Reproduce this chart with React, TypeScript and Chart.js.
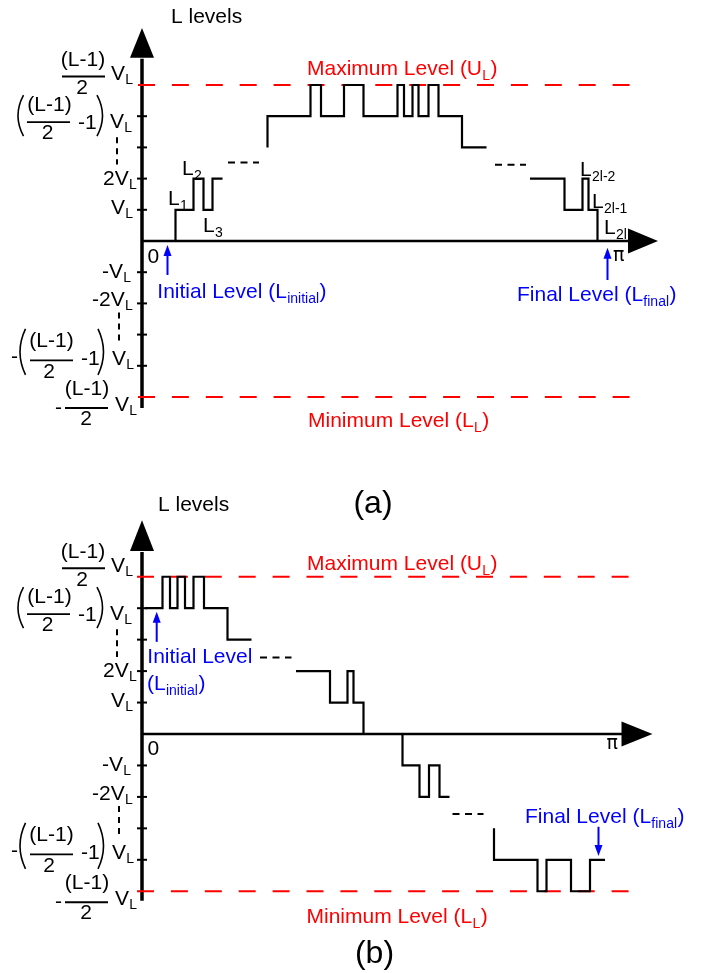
import React, { useEffect, useRef } from 'react';
import { Chart, registerables } from 'chart.js';

Chart.register(...registerables);

const FONT = '"Liberation Sans", Arial, Helvetica, sans-serif';
const PI_FONT = '"DejaVu Sans", "Liberation Sans", sans-serif';
const RED = '#ff0000';
const BLUE = '#0000ff';
const BLACK = '#000000';

// Output levels in units of V_L
const MAX_LEVEL = 5;
const MIN_LEVEL = -5;
const TICK_LEVELS = [-4, -3, -2, -1, 1, 2, 3, 4];

// ---- Panel (a): staircase from 0 up to the maximum level and back to 0 ----
const aSeg1X = [0, 6.7, 10.3, 12.3, 14.1, 16.1];
const aSeg1L = [0, 1, 2, 1, 2, 2];
const aSeg2X = [25.1, 25.1, 33.7, 35.8, 40.4, 44.3, 51.1, 52.4, 54.1, 55.3, 57.3, 59.3, 64.0, 68.9];
const aSeg2L = [3, 4, 5, 4, 5, 4, 5, 4, 5, 4, 5, 4, 3, 3];
const aSeg3X = [77.6, 84.5, 88.1, 89.3, 91.1, 92.0];
const aSeg3L = [2, 1, 2, 1, 0, 0];
// "- - -" continuation marks: [xStart, xEnd, level]
const aGap1 = [17.2, 23.4, 2.52];
const aGap2 = [70.6, 76.8, 2.44];
const aLimitX = [-0.8, 98.0];

// ---- Panel (b): staircase from near maximum down to near minimum ----
const bSeg1X = [0.6, 4.1, 5.6, 7.1, 8.6, 10.3, 12.4, 17.1, 21.9];
const bSeg1L = [4, 5, 4, 5, 4, 5, 4, 3, 3];
const bSeg2X = [30.8, 37.6, 41.1, 42.3, 44.3, 52.1, 55.5, 57.4, 59.5, 61.5];
const bSeg2L = [2, 1, 2, 1, 0, -1, -2, -1, -2, -2];
const bSeg3X = [70.4, 70.4, 79.1, 80.9, 85.8, 89.6, 92.6];
const bSeg3L = [-3, -4, -5, -4, -5, -4, -4];
const bGap1 = [23.6, 29.9, 2.43];
const bGap2 = [62.1, 68.3, -2.54];
const bLimitX = [-1.0, 99.2];

type Panel = {
  key: 'a' | 'b';
  zero: number;
  unit: number;
  segs: [number[], number[]][];
  gaps: number[][];
  limitX: number[];
  vArrow: [number, number];
  axisBottom: number;
  hArrow: [number, number];
};

const PANEL_A: Panel = {
  key: 'a', zero: 241, unit: 31.2,
  segs: [[aSeg1X, aSeg1L], [aSeg2X, aSeg2L], [aSeg3X, aSeg3L]],
  gaps: [aGap1, aGap2], limitX: aLimitX,
  vArrow: [5.87, 6.83], axisBottom: -5.35, hArrow: [97.2, 103.2],
};
const PANEL_B: Panel = {
  key: 'b', zero: 734, unit: 31.45,
  segs: [[bSeg1X, bSeg1L], [bSeg2X, bSeg2L], [bSeg3X, bSeg3L]],
  gaps: [bGap1, bGap2], limitX: bLimitX,
  vArrow: [5.82, 6.8], axisBottom: -5.3, hArrow: [95.9, 102.1],
};

const X_MIN = -2, X_MAX = 104, Y_MIN = -5.6, Y_MAX = 7;
const W = 702, H = 973;

function txt(ctx: CanvasRenderingContext2D, s: string, x: number, y: number, size = 21, color = BLACK, align: CanvasTextAlign = 'left', family = FONT) {
  ctx.font = `${size}px ${family}`;
  ctx.fillStyle = color;
  ctx.textAlign = align;
  ctx.textBaseline = 'alphabetic';
  ctx.fillText(s, x, y);
  return ctx.measureText(s).width;
}
function subTxt(ctx: CanvasRenderingContext2D, x: number, y: number, main: string, sub: string, tail: string, color = BLACK, size = 21, subSize = 14, drop = 5) {
  const w = txt(ctx, main, x, y, size, color);
  const w2 = txt(ctx, sub, x + w + 0.3, y + drop, subSize, color);
  if (tail) txt(ctx, tail, x + w + w2 + 0.8, y, size, color);
}
function vl(ctx: CanvasRenderingContext2D, x: number, y: number, prefix = '') {
  subTxt(ctx, x, y, prefix + 'V', 'L', '', BLACK, 21, 14, 4);
}
function line(ctx: CanvasRenderingContext2D, x1: number, y1: number, x2: number, y2: number, w: number, dash: number[] = []) {
  ctx.save();
  ctx.beginPath();
  ctx.setLineDash(dash);
  ctx.lineWidth = w;
  ctx.moveTo(x1, y1);
  ctx.lineTo(x2, y2);
  ctx.stroke();
  ctx.restore();
}
function paren(ctx: CanvasRenderingContext2D, x: number, top: number, bottom: number, left: boolean) {
  const mid = (top + bottom) / 2;
  ctx.save();
  ctx.beginPath();
  ctx.lineWidth = 1.6;
  ctx.strokeStyle = BLACK;
  if (left) { ctx.moveTo(x + 6, top); ctx.quadraticCurveTo(x - 5, mid, x + 6, bottom); }
  else { ctx.moveTo(x, top); ctx.quadraticCurveTo(x + 11, mid, x, bottom); }
  ctx.stroke();
  ctx.restore();
}
function blueArrow(ctx: CanvasRenderingContext2D, x: number, yTail: number, yTip: number) {
  const dir = yTip < yTail ? -1 : 1;
  ctx.save();
  ctx.strokeStyle = BLUE;
  ctx.fillStyle = BLUE;
  line(ctx, x, yTail, x, yTip - dir * 8, 2);
  ctx.beginPath();
  ctx.moveTo(x, yTip);
  ctx.lineTo(x - 4, yTip - dir * 11);
  ctx.lineTo(x + 4, yTip - dir * 11);
  ctx.closePath();
  ctx.fill();
  ctx.restore();
}

function makePlugin(p: Panel) {
  return {
    id: 'decor' + p.key,
    beforeDatasetsDraw(chart: any) {
      const ctx: CanvasRenderingContext2D = chart.ctx;
      const xs = chart.scales.x, ys = chart.scales.y;
      const px = (u: number) => xs.getPixelForValue(u);
      const py = (v: number) => ys.getPixelForValue(v);
      const ax = px(0), y0 = py(0);
      ctx.save();
      ctx.strokeStyle = BLACK;
      ctx.fillStyle = BLACK;
      // vertical axis + arrow
      line(ctx, ax, py(p.axisBottom), ax, py(p.vArrow[0]) + 1, 3.5);
      ctx.beginPath();
      ctx.moveTo(ax, py(p.vArrow[1]));
      ctx.lineTo(ax - 12, py(p.vArrow[0]));
      ctx.lineTo(ax + 12, py(p.vArrow[0]));
      ctx.closePath();
      ctx.fill();
      // horizontal axis + arrow
      line(ctx, ax, y0, px(p.hArrow[0]) + 1, y0, 2.5);
      ctx.beginPath();
      ctx.moveTo(px(p.hArrow[1]), y0);
      ctx.lineTo(px(p.hArrow[0]), y0 - 12.5);
      ctx.lineTo(px(p.hArrow[0]), y0 + 12.5);
      ctx.closePath();
      ctx.fill();
      // ticks
      TICK_LEVELS.forEach((l) => line(ctx, ax - 5, py(l), ax + 5, py(l), 2));
      ctx.restore();
    },
    afterDraw(chart: any) {
      const ctx: CanvasRenderingContext2D = chart.ctx;
      const xs = chart.scales.x, ys = chart.scales.y;
      const px = (u: number) => xs.getPixelForValue(u);
      const py = (v: number) => ys.getPixelForValue(v);
      const ax = px(0);
      ctx.save();
      ctx.strokeStyle = BLACK;
      ctx.fillStyle = BLACK;

      // ---- level labels ----
      // +max: (L-1)/2 V_L
      let ty = py(MAX_LEVEL);
      txt(ctx, '(L-1)', ax - 59, ty - 19, 21, BLACK, 'center');
      line(ctx, ax - 80, ty - 8.5, ax - 37, ty - 8.5, 1.8);
      txt(ctx, '2', ax - 60, ty + 9, 21, BLACK, 'center');
      vl(ctx, ax - 31, ty - 5);
      // +4: ((L-1)/2 -1) V_L
      ty = py(4);
      paren(ctx, ax - 124.5, ty - 21, ty + 20, true);
      txt(ctx, '(L-1)', ax - 92.5, ty - 5, 21, BLACK, 'center');
      line(ctx, ax - 115, ty + 6, ax - 72, ty + 6, 1.8);
      txt(ctx, '2', ax - 94.5, ty + 23, 21, BLACK, 'center');
      txt(ctx, '-1', ax - 64, ty + 13);
      paren(ctx, ax - 45, ty - 21, ty + 20, false);
      vl(ctx, ax - 32, ty + 12);
      // dotted continuation (positive)
      line(ctx, ax - 25, py(4) + 21, ax - 25, py(2) - 14, 2, [6, 5]);
      // +2, +1
      vl(ctx, ax - 39, py(2) + 6, '2');
      vl(ctx, ax - 31, py(1) + 4);
      // -1, -2
      vl(ctx, ax - 40, py(-1) + 6, '-');
      vl(ctx, ax - 50, py(-2) + 3, '-2');
      // dotted continuation (negative)
      line(ctx, ax - 23, py(-2) + 9, ax - 23, py(-4) - 22, 2, [6, 5]);
      // -4: -((L-1)/2 -1) V_L
      ty = py(-4);
      txt(ctx, '-', ax - 131, ty - 3.2);
      paren(ctx, ax - 122.5, ty - 37, ty + 9, true);
      txt(ctx, '(L-1)', ax - 90.5, ty - 19, 21, BLACK, 'center');
      line(ctx, ax - 112, ty - 5.5, ax - 69, ty - 5.5, 1.8);
      txt(ctx, '2', ax - 93, ty + 12.5, 21, BLACK, 'center');
      txt(ctx, '-1', ax - 61, ty - 1);
      paren(ctx, ax - 44, ty - 37, ty + 9, false);
      vl(ctx, ax - 30, ty - 0.5);
      // -max: -(L-1)/2 V_L
      ty = py(MIN_LEVEL);
      txt(ctx, '-', ax - 87, ty + 16.8);
      txt(ctx, '(L-1)', ax - 55, ty - 2.5, 21, BLACK, 'center');
      line(ctx, ax - 77, ty + 11, ax - 34, ty + 11, 1.8);
      txt(ctx, '2', ax - 56, ty + 28, 21, BLACK, 'center');
      vl(ctx, ax - 27, ty + 13.5);

      // ---- panel texts ----
      if (p.key === 'a') {
        txt(ctx, 'L levels', px(5.8), py(6.99));
        txt(ctx, '0', px(1.1), py(-0.71));
        txt(ctx, '\u03c0', px(94.2), py(-0.64), 19, BLACK, 'left', PI_FONT);
        subTxt(ctx, px(33), py(5.32), 'Maximum Level (U', 'L', ')', RED);
        subTxt(ctx, px(33.2), py(-5.96), 'Minimum Level (L', 'L', ')', RED);
        subTxt(ctx, px(3.06), py(-1.83), 'Initial Level (L', 'initial', ')', BLUE);
        subTxt(ctx, px(75), py(-1.92), 'Final Level (L', 'final', ')', BLUE);
        blueArrow(ctx, px(5.1), py(-1.09), py(-0.13));
        blueArrow(ctx, px(93.1), py(-1.25), py(-0.22));
        subTxt(ctx, px(5.2), py(1.15), 'L', '1', '');
        subTxt(ctx, px(8), py(2.1), 'L', '2', '');
        subTxt(ctx, px(12.2), py(0.29), 'L', '3', '');
        subTxt(ctx, px(87.6), py(2.08), 'L', '2l-2', '');
        subTxt(ctx, px(90), py(1.06), 'L', '2l-1', '');
        subTxt(ctx, px(92.4), py(0.22), 'L', '2l', '');
        txt(ctx, '(a)', px(46.2), py(-8.72), 32, BLACK, 'center');
      } else {
        txt(ctx, 'L levels', px(3.2), py(7.09));
        txt(ctx, '0', px(1.1), py(-0.67));
        txt(ctx, '\u03c0', px(92.9), py(-0.48), 19, BLACK, 'left', PI_FONT);
        subTxt(ctx, px(33), py(5.21), 'Maximum Level (U', 'L', ')', RED);
        subTxt(ctx, px(32.9), py(-6.01), 'Minimum Level (L', 'L', ')', RED);
        txt(ctx, 'Initial Level', px(1.06), py(2.26), 21, BLUE);
        subTxt(ctx, px(1.0), py(1.4), '(L', 'initial', ')', BLUE);
        subTxt(ctx, px(76.6), py(-2.83), 'Final Level (L', 'final', ')', BLUE);
        blueArrow(ctx, px(2.94), py(2.93), py(3.89));
        blueArrow(ctx, px(91.3), py(-2.95), py(-3.88));
        txt(ctx, '(b)', px(46.5), py(-7.29), 32, BLACK, 'center');
      }
      ctx.restore();
    },
  };
}

function buildConfig(p: Panel): any {
  const datasets: any[] = [];
  p.segs.forEach(([xs, ls]) => {
    datasets.push({
      data: xs.map((x, i) => ({ x, y: ls[i] })),
      borderColor: BLACK, borderWidth: 2.2, stepped: 'before',
      pointRadius: 0, fill: false, clip: false, order: 1,
    });
  });
  p.gaps.forEach((g) => {
    datasets.push({
      data: [{ x: g[0], y: g[2] }, { x: g[1], y: g[2] }],
      borderColor: BLACK, borderWidth: 2, borderDash: [7, 5.5],
      pointRadius: 0, fill: false, clip: false, order: 1,
    });
  });
  [MAX_LEVEL, MIN_LEVEL].forEach((lv) => {
    datasets.push({
      data: [{ x: p.limitX[0], y: lv }, { x: p.limitX[1], y: lv }],
      borderColor: RED, borderWidth: 2, borderDash: [17, 16.9],
      pointRadius: 0, fill: false, clip: false, order: 2,
    });
  });
  const top = p.zero - Y_MAX * p.unit;
  const bottom = p.zero - Y_MIN * p.unit;
  const left = 142 + X_MIN * 5;
  const right = 142 + X_MAX * 5;
  return {
    type: 'line',
    data: { datasets },
    options: {
      animation: false,
      responsive: false,
      maintainAspectRatio: false,
      events: [],
      layout: { padding: { left, right: W - right, top, bottom: H - bottom } },
      plugins: { legend: { display: false }, tooltip: { enabled: false } },
      scales: {
        x: { type: 'linear', min: X_MIN, max: X_MAX, display: false },
        y: { type: 'linear', min: Y_MIN, max: Y_MAX, display: false },
      },
    },
    plugins: [makePlugin(p)],
  };
}

export default function App() {
  const aRef = useRef<HTMLCanvasElement>(null);
  const bRef = useRef<HTMLCanvasElement>(null);
  useEffect(() => {
    const ca = new Chart(aRef.current as HTMLCanvasElement, buildConfig(PANEL_A));
    const cb = new Chart(bRef.current as HTMLCanvasElement, buildConfig(PANEL_B));
    return () => { ca.destroy(); cb.destroy(); };
  }, []);
  return (
    <div style={{ position: 'absolute', left: 0, top: 0, width: W, height: H, background: '#fff' }}>
      <canvas ref={aRef} width={W} height={H} style={{ position: 'absolute', left: 0, top: 0 }} />
      <canvas ref={bRef} width={W} height={H} style={{ position: 'absolute', left: 0, top: 0 }} />
    </div>
  );
}
